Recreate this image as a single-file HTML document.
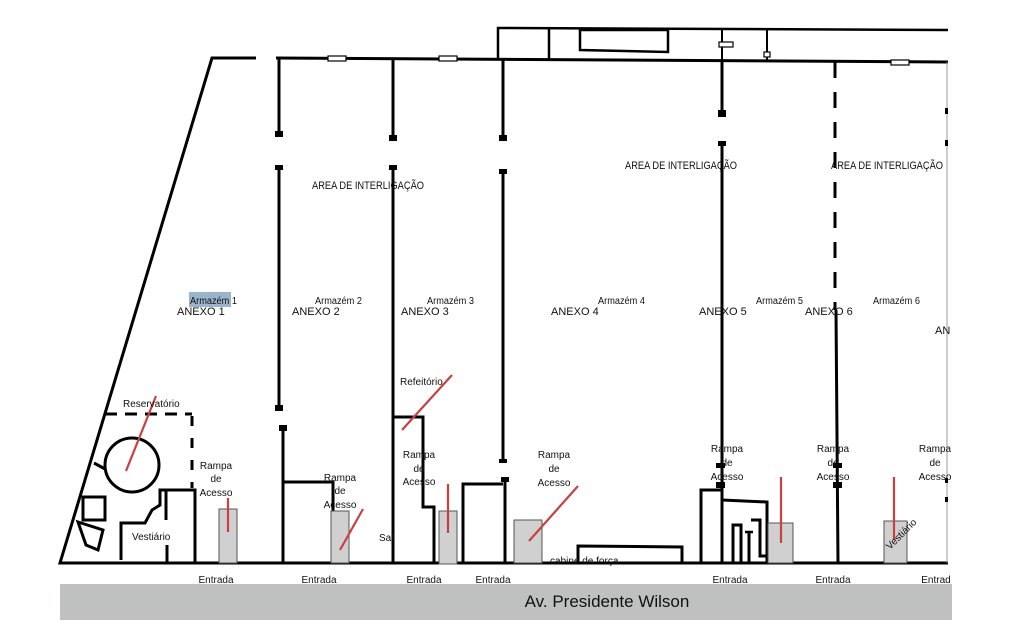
<!DOCTYPE html>
<html><head><meta charset="utf-8"><style>
html,body{margin:0;padding:0;background:#fff;}
svg{display:block;}
text{font-family:"Liberation Sans",sans-serif;fill:#111;}
</style></head><body>
<svg width="1024" height="640" viewBox="0 0 1024 640" xmlns="http://www.w3.org/2000/svg">
<rect width="1024" height="640" fill="#fff"/>
<rect x="60" y="584" width="892" height="36" fill="#bfc0c0"/>
<text x="607" y="607" font-size="17" text-anchor="middle">Av. Presidente Wilson</text>

<g stroke="#000" stroke-width="3" fill="none">
<polyline points="256,58 212,58 60,563 948,563"/>
<line x1="276" y1="58" x2="948" y2="62"/>
<polyline points="498,58 498,28 948,30" stroke-width="2.5"/>
<line x1="549" y1="29" x2="549" y2="60" stroke-width="2.5"/>
<polygon points="580,30 668,30 668,52 580,50" stroke-width="2.5"/>
<line x1="722" y1="30" x2="722" y2="60" stroke-width="2"/>
<line x1="767" y1="30" x2="767" y2="60" stroke-width="2"/>
<line x1="279" y1="58" x2="279" y2="135"/>
<line x1="279" y1="168" x2="279" y2="408"/>
<line x1="283" y1="428" x2="283" y2="563"/>
<line x1="393" y1="58" x2="393" y2="138"/>
<line x1="393" y1="168" x2="393" y2="563"/>
<line x1="503" y1="58" x2="503" y2="138"/>
<line x1="503" y1="172" x2="503" y2="460"/>
<line x1="505" y1="480" x2="505" y2="563"/>
<line x1="722" y1="60" x2="722" y2="113"/>
<line x1="722" y1="143" x2="722" y2="563"/>
<line x1="835" y1="62" x2="835" y2="310" stroke-dasharray="16,14"/>
<line x1="836" y1="310" x2="838" y2="563"/>
</g>
<line x1="947" y1="62" x2="947" y2="563" stroke="#999" stroke-width="1"/>
<g fill="#000">
<rect x="275" y="131" width="8" height="6"/><rect x="275" y="165" width="8" height="5"/>
<rect x="275" y="405" width="8" height="6"/><rect x="279" y="425" width="8" height="6"/>
<rect x="389" y="135" width="8" height="6"/><rect x="389" y="165" width="8" height="5"/>
<rect x="499" y="135" width="8" height="6"/><rect x="499" y="169" width="8" height="5"/>
<rect x="499" y="459" width="8" height="4"/><rect x="501" y="477" width="8" height="5"/>
<rect x="718" y="110" width="8" height="7"/><rect x="718" y="141" width="8" height="5"/>
<rect x="716" y="463" width="9" height="5"/><rect x="716" y="482" width="9" height="6"/>
<rect x="833" y="463" width="9" height="5"/><rect x="833" y="482" width="9" height="6"/>
<rect x="945" y="108" width="3" height="6"/><rect x="945" y="140" width="3" height="6"/>
<rect x="945" y="478" width="3" height="5"/><rect x="945" y="497" width="3" height="5"/>
</g>
<g fill="#fff" stroke="#000" stroke-width="1.2">
<rect x="328" y="56" width="18" height="5"/>
<rect x="439" y="56" width="18" height="5"/>
<rect x="719" y="42" width="14" height="5"/>
<rect x="764" y="52" width="6" height="5"/>
<rect x="891" y="60" width="18" height="5"/>
</g>

<g stroke="#000" stroke-width="3" fill="none">
<line x1="105" y1="414" x2="192" y2="414" stroke-dasharray="12,8"/>
<line x1="192" y1="416" x2="192" y2="488" stroke-dasharray="10,12"/>
<circle cx="132" cy="465" r="27"/>
<line x1="94" y1="463" x2="105" y2="469"/>
<rect x="83" y="497" width="22" height="23"/>
<polygon points="78,522 103,530 98,550 86,545"/>
<polyline points="121,560 121,523 145,523 152,510 160,505 160,490 195,490 195,563"/>
<line x1="166" y1="490" x2="166" y2="520"/>
<line x1="167" y1="545" x2="167" y2="563"/>
<polyline points="283,482 333,482 333,563"/>
<polyline points="393,417 423,417 423,507 434,507 434,563"/>
<polyline points="463,563 463,484 503,484"/>
<polyline points="578,563 578,546 682,547 682,563"/>
<polyline points="701,563 701,490 722,490"/>
<polyline points="722,500 767,502 767,563"/>
<polyline points="733,563 733,525 741,525 741,563"/>
<polyline points="751,520 760,520 760,556 767,556"/>
<line x1="749" y1="563" x2="749" y2="532"/>
<line x1="745" y1="532" x2="753" y2="532" stroke-width="2.5"/>
</g>

<g fill="#d0d0d0" stroke="#555" stroke-width="1">
<rect x="219" y="509" width="18" height="54"/>
<rect x="331" y="511" width="18" height="52"/>
<rect x="439" y="511" width="18" height="53"/>
<rect x="514" y="520" width="28" height="43"/>
<rect x="768" y="523" width="25" height="40"/>
<rect x="884" y="521" width="23" height="42"/>
</g>

<g stroke="#c84040" stroke-width="2.2">
<line x1="126" y1="471" x2="156" y2="396"/>
<line x1="228" y1="498" x2="228" y2="532"/>
<line x1="340" y1="550" x2="363" y2="509"/>
<line x1="402" y1="430" x2="452" y2="375"/>
<line x1="448" y1="484" x2="448" y2="533"/>
<line x1="529" y1="541" x2="578" y2="486"/>
<line x1="781" y1="477" x2="781" y2="543"/>
<line x1="894" y1="477" x2="894" y2="540"/>
</g>

<g font-size="11">
<text x="312" y="189" textLength="112" lengthAdjust="spacingAndGlyphs">AREA DE INTERLIGAÇÃO</text>
<text x="625" y="169" textLength="112" lengthAdjust="spacingAndGlyphs">AREA DE INTERLIGAÇÃO</text>
<text x="831" y="169" textLength="112" lengthAdjust="spacingAndGlyphs">AREA DE INTERLIGAÇÃO</text>
</g>
<rect x="189" y="292" width="42" height="15" fill="#9ab4cc"/>
<g font-size="10">
<text x="190" y="304" textLength="47" lengthAdjust="spacingAndGlyphs">Armazém 1</text>
<text x="315" y="304" textLength="47" lengthAdjust="spacingAndGlyphs">Armazém 2</text>
<text x="427" y="304" textLength="47" lengthAdjust="spacingAndGlyphs">Armazém 3</text>
<text x="598" y="304" textLength="47" lengthAdjust="spacingAndGlyphs">Armazém 4</text>
<text x="756" y="304" textLength="47" lengthAdjust="spacingAndGlyphs">Armazém 5</text>
<text x="873" y="304" textLength="47" lengthAdjust="spacingAndGlyphs">Armazém 6</text>
</g>
<g font-size="11">
<text x="177" y="315">ANEXO 1</text>
<text x="292" y="315">ANEXO 2</text>
<text x="401" y="315">ANEXO 3</text>
<text x="551" y="315">ANEXO 4</text>
<text x="699" y="315">ANEXO 5</text>
<text x="805" y="315">ANEXO 6</text>
<text x="935" y="334">AN</text>
</g>
<g font-size="10">
<text x="123" y="407">Reservatório</text>
<text x="400" y="385">Refeitório</text>
<text x="132" y="540">Vestiário</text>
<text x="379" y="541">Sal</text>
<text x="550" y="564">cabine de força</text>
<text transform="translate(890,550) rotate(-45)">Vestiário</text>
</g>
<g font-size="10" text-anchor="middle">
<text x="216" y="469">Rampa</text><text x="216" y="482">de</text><text x="216" y="496">Acesso</text>
<text x="340" y="481">Rampa</text><text x="340" y="494">de</text><text x="340" y="508">Acesso</text>
<text x="419" y="458">Rampa</text><text x="419" y="472">de</text><text x="419" y="485">Acesso</text>
<text x="554" y="458">Rampa</text><text x="554" y="472">de</text><text x="554" y="486">Acesso</text>
<text x="727" y="452">Rampa</text><text x="727" y="466">de</text><text x="727" y="480">Acesso</text>
<text x="833" y="452">Rampa</text><text x="833" y="466">de</text><text x="833" y="480">Acesso</text>
<text x="935" y="452">Rampa</text><text x="935" y="466">de</text><text x="935" y="480">Acesso</text>
</g>
<g font-size="10" text-anchor="middle">
<text x="216" y="583">Entrada</text>
<text x="319" y="583">Entrada</text>
<text x="424" y="583">Entrada</text>
<text x="493" y="583">Entrada</text>
<text x="730" y="583">Entrada</text>
<text x="833" y="583">Entrada</text>
<text x="936" y="583">Entrad</text>
</g>
</svg>
</body></html>
